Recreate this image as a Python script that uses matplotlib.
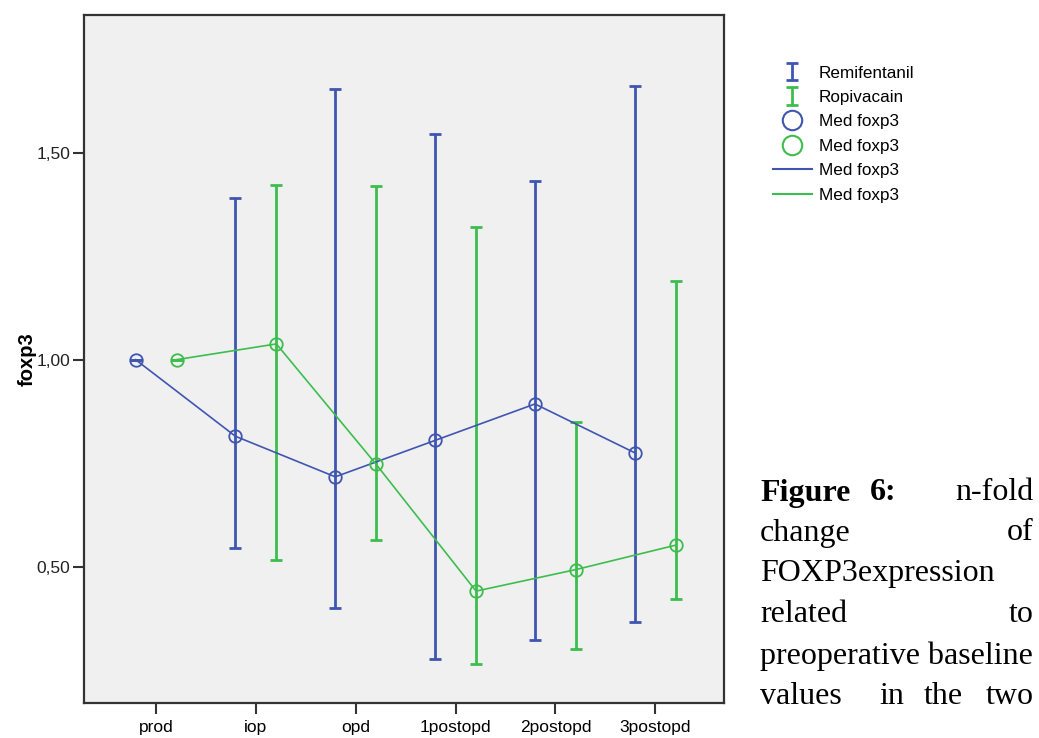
import matplotlib.pyplot as plt
import numpy as np
from matplotlib.lines import Line2D

# Time points and group summaries (median with spread) for foxp3
timepoints = ["prod", "iop", "opd", "1postopd", "2postopd", "3postopd"]

remi_med = [1.00, 0.815, 0.717, 0.805, 0.893, 0.775]
remi_low = [1.00, 0.545, 0.401, 0.277, 0.322, 0.367]
remi_high = [1.00, 1.390, 1.654, 1.545, 1.432, 1.661]

ropi_med = [1.00, 1.038, 0.747, 0.441, 0.493, 0.552]
ropi_low = [1.00, 0.517, 0.565, 0.264, 0.300, 0.421]
ropi_high = [1.00, 1.421, 1.419, 1.320, 0.849, 1.189]

ytick_vals = [0.5, 1.0, 1.5]
ytick_text = ["0,50", "1,00", "1,50"]

blue = "#3f56b0"
green = "#3dbd4e"

plt.rcParams["font.family"] = ["Liberation Sans", "DejaVu Sans"]

fig = plt.figure(figsize=(10.39, 7.38), dpi=100, facecolor="white")
ax = fig.add_axes([0.081, 0.047, 0.616, 0.933])
ax.set_facecolor("#f0f0f0")

x = np.arange(len(timepoints))
off = 0.205


def draw_group(xs, med, low, high, color, name):
    med = np.asarray(med)
    yerr = [med - np.asarray(low), np.asarray(high) - med]
    eb = ax.errorbar(xs, med, yerr=yerr, fmt="none", ecolor=color,
                     elinewidth=2.0, capsize=4, capthick=2.0, label=name, zorder=3)
    ax.plot(xs, med, color=color, lw=1.2, zorder=4)
    ax.plot(xs, med, ls="none", marker="o", ms=9, mfc="none", mec=color,
            mew=1.3, zorder=5)
    return eb


eb_remi = draw_group(x - off, remi_med, remi_low, remi_high, blue, "Remifentanil")
eb_ropi = draw_group(x + off, ropi_med, ropi_low, ropi_high, green, "Ropivacain")

ax.set_xlim(-0.72, 5.69)
ax.set_ylim(0.17, 1.833)
ax.set_xticks(x)
ax.set_xticklabels(timepoints, fontsize=12.5)
ax.set_yticks(ytick_vals)
ax.set_yticklabels(ytick_text, fontsize=12.5, color="#222222")
ax.tick_params(axis="x", length=8, width=1.5, color="#333333", pad=4)
ax.tick_params(axis="y", length=8, width=1.5, color="#333333", pad=2)
for s in ax.spines.values():
    s.set_linewidth(1.6)
    s.set_color("#333333")
ax.set_ylabel("foxp3", fontsize=14.5, fontweight="bold", labelpad=0)

# Legend in the style of the SPSS output
handles = [
    eb_remi,
    eb_ropi,
    Line2D([], [], ls="none", marker="o", ms=14, mfc="none", mec=blue, mew=1.5),
    Line2D([], [], ls="none", marker="o", ms=14, mfc="none", mec=green, mew=1.5),
    Line2D([], [], color=blue, lw=1.5),
    Line2D([], [], color=green, lw=1.5),
]
labels = ["Remifentanil", "Ropivacain", "Med foxp3", "Med foxp3", "Med foxp3", "Med foxp3"]
fig.legend(handles, labels, loc="upper left", bbox_to_anchor=(0.729, 0.932),
           frameon=False, fontsize=12.3, handlelength=2.3, handletextpad=0.4,
           labelspacing=0.55)

# Caption text beside the chart, justified by hand
serif = ["Liberation Serif", "DejaVu Serif"]
fs = 23
lines_y = [493, 533, 574, 615, 656, 697]
x_left = 760 / 1039
x_right = 1034 / 1039


def ytop(py):
    return 1 - py / 738


fig.text(x_left, ytop(lines_y[0]), "Figure", family=serif, fontsize=fs,
         fontweight="bold", va="center", ha="left")
fig.text(870 / 1039, ytop(lines_y[0]), "6:", family=serif, fontsize=fs,
         fontweight="bold", va="center", ha="left")
fig.text(x_right, ytop(lines_y[0]), "n-fold", family=serif, fontsize=fs,
         va="center", ha="right")
fig.text(x_left, ytop(lines_y[1]), "change", family=serif, fontsize=fs,
         va="center", ha="left")
fig.text(x_right, ytop(lines_y[1]), "of", family=serif, fontsize=fs,
         va="center", ha="right")
fig.text(x_left, ytop(lines_y[2]), "FOXP3expression", family=serif, fontsize=fs,
         va="center", ha="left")
fig.text(x_left, ytop(lines_y[3]), "related", family=serif, fontsize=fs,
         va="center", ha="left")
fig.text(x_right, ytop(lines_y[3]), "to", family=serif, fontsize=fs,
         va="center", ha="right")
fig.text(x_left, ytop(lines_y[4]), "preoperative baseline", family=serif,
         fontsize=fs, va="center", ha="left")
fig.text(x_left, ytop(lines_y[5]), "values", family=serif, fontsize=fs,
         va="center", ha="left")
fig.text(879 / 1039, ytop(lines_y[5]), "in", family=serif, fontsize=fs,
         va="center", ha="left")
fig.text(924 / 1039, ytop(lines_y[5]), "the", family=serif, fontsize=fs,
         va="center", ha="left")
fig.text(x_right, ytop(lines_y[5]), "two", family=serif, fontsize=fs,
         va="center", ha="right")

fig.savefig("out.png", dpi=100, facecolor="white")
